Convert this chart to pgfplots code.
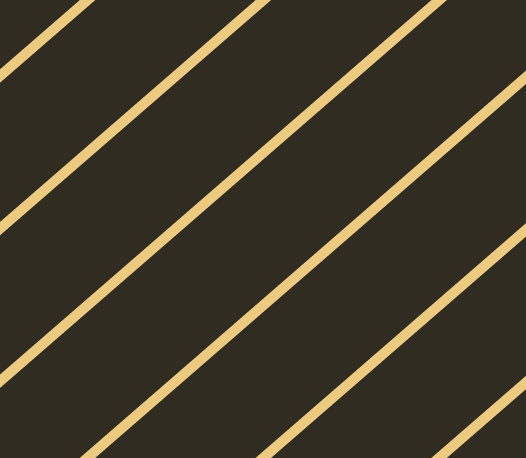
\documentclass[border=0pt]{standalone}
\usepackage{pgfplots}
\pgfplotsset{compat=1.18}
\definecolor{bg}{RGB}{49,44,34}
\definecolor{ln}{RGB}{236,202,128}
\begin{document}
\begin{tikzpicture}
\begin{axis}[
  scale only axis, width=526pt, height=457pt,
  xmin=0, xmax=526, ymin=0, ymax=457, y dir=reverse,
  hide axis, clip=true,
]
\addplot[fill=bg, draw=none] coordinates {(-5,-5) (531,-5) (531,462) (-5,462)} -- cycle;
\addplot[ln, line width=10pt] coordinates {(-20,93.4) (546,-397.9)};
\addplot[ln, line width=10pt] coordinates {(-20,246.0) (546,-245.3)};
\addplot[ln, line width=10pt] coordinates {(-20,398.6) (546,-92.7)};
\addplot[ln, line width=10pt] coordinates {(-20,551.2) (546,59.9)};
\addplot[ln, line width=10pt] coordinates {(-20,703.8) (546,212.5)};
\addplot[ln, line width=10pt] coordinates {(-20,856.4) (546,365.1)};
\end{axis}
\pgfresetboundingbox
\useasboundingbox (current axis.south west) rectangle (current axis.north east);
\end{tikzpicture}
\end{document}
